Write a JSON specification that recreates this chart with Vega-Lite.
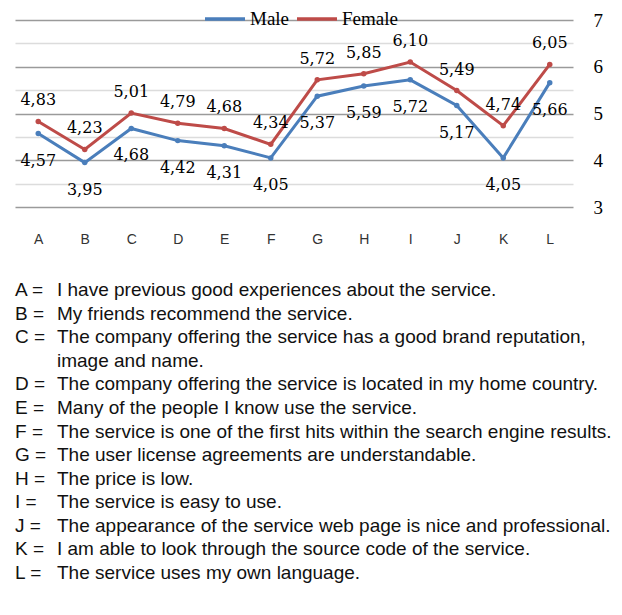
{
  "$schema": "https://vega.github.io/schema/vega-lite/v6.json",
  "padding": {"left": 15, "top": -3, "right": 0, "bottom": 0},
  "background": "white",
  "config": {
    "view": {"stroke": null},
    "locale": {"number": {"decimal": ",", "thousands": ".", "grouping": [3], "currency": ["", ""]}}
  },
  "datasets": {
    "scores": [
      {"item": "A", "gender": "Male", "score": 4.57},
      {"item": "B", "gender": "Male", "score": 3.95},
      {"item": "C", "gender": "Male", "score": 4.68},
      {"item": "D", "gender": "Male", "score": 4.42},
      {"item": "E", "gender": "Male", "score": 4.31},
      {"item": "F", "gender": "Male", "score": 4.05},
      {"item": "G", "gender": "Male", "score": 5.37},
      {"item": "H", "gender": "Male", "score": 5.59},
      {"item": "I", "gender": "Male", "score": 5.72},
      {"item": "J", "gender": "Male", "score": 5.17},
      {"item": "K", "gender": "Male", "score": 4.05},
      {"item": "L", "gender": "Male", "score": 5.66},
      {"item": "A", "gender": "Female", "score": 4.83},
      {"item": "B", "gender": "Female", "score": 4.23},
      {"item": "C", "gender": "Female", "score": 5.01},
      {"item": "D", "gender": "Female", "score": 4.79},
      {"item": "E", "gender": "Female", "score": 4.68},
      {"item": "F", "gender": "Female", "score": 4.34},
      {"item": "G", "gender": "Female", "score": 5.72},
      {"item": "H", "gender": "Female", "score": 5.85},
      {"item": "I", "gender": "Female", "score": 6.10},
      {"item": "J", "gender": "Female", "score": 5.49},
      {"item": "K", "gender": "Female", "score": 4.74},
      {"item": "L", "gender": "Female", "score": 6.05}
    ],
    "legendRows": [
      {"row": 1, "key": "A =", "desc": "I have previous good experiences about the service."},
      {"row": 2, "key": "B =", "desc": "My friends recommend the service."},
      {"row": 3, "key": "C =", "desc": "The company offering the service has a good brand reputation,"},
      {"row": 4, "key": "", "desc": "image and name."},
      {"row": 5, "key": "D =", "desc": "The company offering the service is located in my home country."},
      {"row": 6, "key": "E =", "desc": "Many of the people I know use the service."},
      {"row": 7, "key": "F =", "desc": "The service is one of the first hits within the search engine results."},
      {"row": 8, "key": "G =", "desc": "The user license agreements are understandable."},
      {"row": 9, "key": "H =", "desc": "The price is low."},
      {"row": 10, "key": "I =", "desc": "The service is easy to use."},
      {"row": 11, "key": "J =", "desc": "The appearance of the service web page is nice and professional."},
      {"row": 12, "key": "K =", "desc": "I am able to look through the source code of the service."},
      {"row": 13, "key": "L =", "desc": "The service uses my own language."}
    ]
  },
  "spacing": 35,
  "vconcat": [
    {
      "width": 558,
      "height": 187,
      "data": {"name": "scores"},
      "encoding": {
        "x": {
          "field": "item", "type": "ordinal",
          "scale": {"type": "point", "padding": 0.5},
          "axis": {"title": null, "labelAngle": 0, "domain": false, "ticks": false, "labelPadding": 25,
                   "labelFont": "Liberation Sans", "labelFontSize": 14, "labelColor": "#333333"}
        },
        "y": {
          "field": "score", "type": "quantitative",
          "scale": {"domain": [3, 7], "nice": false, "zero": false},
          "axis": {
            "title": null, "orient": "right", "domain": false, "ticks": false,
            "values": [3, 3.5, 4, 4.5, 5, 5.5, 6, 6.5, 7],
            "labelExpr": "datum.value % 1 === 0 ? datum.value : ''",
            "labelPadding": 20, "labelFont": "Liberation Serif", "labelFontSize": 19, "labelColor": "#000000",
            "grid": true,
            "gridColor": {"condition": {"test": "datum.value % 1 === 0", "value": "#9a9a9a"}, "value": "#dcdcdc"},
            "gridWidth": 1.3
          }
        }
      },
      "layer": [
        {
          "mark": {"type": "line", "strokeWidth": 3},
          "encoding": {
            "color": {
              "field": "gender", "type": "nominal",
              "scale": {"domain": ["Male", "Female"], "range": ["#4A7EBB", "#BE4B48"]},
              "legend": {
                "orient": "none", "legendX": 188, "legendY": -23, "direction": "horizontal", "title": null,
                "symbolType": "M-1,0H1", "symbolSize": 1600, "symbolStrokeWidth": 3.5,
                "labelFont": "Liberation Serif", "labelFontSize": 19, "labelColor": "#000000",
                "labelOffset": 3, "columnPadding": 0
              }
            }
          }
        },
        {
          "mark": {"type": "point", "filled": true, "size": 30, "opacity": 1},
          "encoding": {
            "color": {"field": "gender", "type": "nominal", "legend": null}
          }
        },
        {
          "transform": [{"filter": "datum.gender === 'Female'"}],
          "mark": {"type": "text", "dy": -21, "font": "DejaVu Serif", "fontSize": 16, "color": "#000000"},
          "encoding": {"text": {"field": "score", "type": "quantitative", "format": ".2f"}}
        },
        {
          "transform": [{"filter": "datum.gender === 'Male'"}],
          "mark": {"type": "text", "dy": 27, "font": "DejaVu Serif", "fontSize": 16, "color": "#000000"},
          "encoding": {"text": {"field": "score", "type": "quantitative", "format": ".2f"}}
        }
      ]
    },
    {
      "width": 600,
      "height": 283,
      "data": {"name": "legendRows"},
      "transform": [{"fold": ["key", "desc"], "as": ["col", "value"]}],
      "mark": {"type": "text", "align": "left", "baseline": "middle", "font": "Liberation Sans", "fontSize": 19, "color": "#111111"},
      "encoding": {
        "x": {"field": "col", "type": "ordinal", "scale": {"type": "point", "domain": ["key", "desc"], "range": [0, 42], "padding": 0}, "axis": null},
        "y": {"field": "row", "type": "quantitative", "scale": {"domain": [1, 13], "nice": false, "zero": false, "reverse": true}, "axis": null},
        "text": {"field": "value", "type": "nominal"}
      }
    }
  ]
}
